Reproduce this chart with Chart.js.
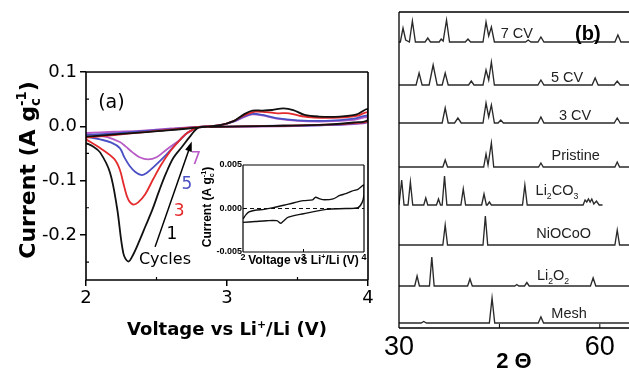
<!DOCTYPE html>
<html>
<head>
<meta charset="utf-8">
<script src="https://cdn.jsdelivr.net/npm/chart.js"></script>
<style>
  html,body{margin:0;padding:0;background:#fff;}
  body{width:629px;height:369px;overflow:hidden;position:relative;}
  canvas{position:absolute;display:block;}
  #cv{left:0;top:0;width:380px;height:369px;}
  #inset{left:200px;top:150px;width:170px;height:120px;}
  #xrd{left:380px;top:0;width:262px;height:369px;}
</style>
</head>
<body>
<canvas id="cv" width="380" height="369"></canvas>
<canvas id="inset" width="170" height="120"></canvas>
<canvas id="xrd" width="262" height="369"></canvas>
<script>
// ---- (a) cyclic voltammetry, [V, A/g] going 2 V -> 4 V -> 2 V ----
const cvXTicks = [2, 3, 4];
const cvXMinor = [2.5, 3.5];
const cvYTicks = [-0.2, -0.1, 0.0, 0.1];
const cvYMinor = [-0.25, -0.15, -0.05, 0.05];
const cvCycles = ['1', '3', '5', '7'];

const cycle1 = [
  [2.0,-0.019],[2.2,-0.015],[2.4,-0.011],[2.6,-0.007],[2.8,-0.002],[2.95,0.002],[3.05,0.010],[3.12,0.022],
  [3.18,0.029],[3.25,0.029],[3.32,0.030],[3.40,0.033],[3.47,0.030],[3.55,0.021],[3.65,0.018],[3.8,0.018],
  [3.92,0.022],[4.0,0.032],
  [4.0,0.012],[3.9,0.007],[3.7,0.003],[3.4,0.001],[3.1,0.0],[2.9,-0.001],[2.8,-0.002],[2.74,-0.018],
  [2.68,-0.038],[2.62,-0.058],[2.57,-0.085],[2.52,-0.118],[2.47,-0.154],[2.42,-0.185],[2.38,-0.21],
  [2.335,-0.236],[2.3,-0.249],[2.265,-0.234],[2.22,-0.15],[2.17,-0.085],[2.1,-0.048],[2.05,-0.037],[2.0,-0.031]
];
const cycle3 = [
  [2.0,-0.021],[2.2,-0.016],[2.4,-0.011],[2.6,-0.006],[2.8,-0.001],[2.95,0.002],[3.05,0.010],[3.12,0.020],
  [3.2,0.027],[3.28,0.026],[3.36,0.024],[3.44,0.024],[3.52,0.019],[3.62,0.016],[3.8,0.016],[3.92,0.019],[4.0,0.026],
  [4.0,0.010],[3.9,0.006],[3.7,0.003],[3.4,0.001],[3.1,0.0],[2.9,-0.001],[2.8,-0.002],[2.72,-0.012],
  [2.67,-0.024],[2.6,-0.045],[2.53,-0.072],[2.475,-0.098],[2.42,-0.125],[2.37,-0.14],[2.335,-0.144],
  [2.3,-0.135],[2.27,-0.11],[2.24,-0.08],[2.2,-0.06],[2.1,-0.04],[2.0,-0.024]
];
const cycle5 = [
  [2.0,-0.016],[2.2,-0.013],[2.4,-0.009],[2.6,-0.005],[2.8,-0.001],[2.95,0.002],[3.05,0.009],[3.12,0.018],
  [3.18,0.023],[3.25,0.021],[3.35,0.015],[3.5,0.011],[3.7,0.010],[3.9,0.014],[4.0,0.020],
  [4.0,0.009],[3.9,0.005],[3.7,0.002],[3.4,0.001],[3.1,0.0],[2.9,-0.001],[2.8,-0.002],[2.72,-0.012],
  [2.67,-0.024],[2.57,-0.052],[2.475,-0.076],[2.43,-0.086],[2.395,-0.09],[2.35,-0.084],[2.31,-0.073],
  [2.27,-0.056],[2.24,-0.04],[2.18,-0.03],[2.1,-0.024],[2.0,-0.019]
];
const cycle7 = [
  [2.0,-0.012],[2.2,-0.010],[2.4,-0.008],[2.6,-0.004],[2.8,-0.001],[2.95,0.002],[3.05,0.009],[3.12,0.017],
  [3.18,0.022],[3.25,0.020],[3.35,0.014],[3.5,0.010],[3.7,0.009],[3.9,0.012],[4.0,0.017],
  [4.0,0.008],[3.9,0.004],[3.7,0.002],[3.4,0.0],[3.1,-0.001],[2.9,-0.001],[2.8,-0.002],[2.72,-0.012],
  [2.67,-0.024],[2.57,-0.043],[2.5,-0.057],[2.44,-0.061],[2.38,-0.057],[2.33,-0.048],[2.28,-0.037],
  [2.24,-0.029],[2.15,-0.02],[2.0,-0.014]
];
const cvLoops = [cycle1, cycle3, cycle5, cycle7];

// ---- inset, last cycle zoomed ----
const insetXTicks = [2, 3, 4];
const insetYTicks = [-0.005, 0.0, 0.005];
const insetLoop = [
  [2.0,-0.0012],[2.05,-0.0007],[2.1,-0.0004],[2.2,-0.0002],[2.35,-0.0001],[2.5,0.0001],[2.75,0.0005],
  [3.0,0.0009],[3.15,0.0010],[3.2,0.0013],[3.27,0.0011],[3.35,0.0010],[3.49,0.0011],[3.6,0.0015],
  [3.7,0.0017],[3.8,0.0020],[3.9,0.0022],[4.0,0.0027],
  [4.0,0.0016],[3.97,0.0007],[3.9,0.0001],[3.7,0.0],[3.38,-0.0001],[3.0,-0.0006],[2.75,-0.001],
  [2.66,-0.0015],[2.62,-0.0017],[2.56,-0.0014],[2.39,-0.0014],[2.2,-0.0015],[2.0,-0.0016]
];
const insetZero = [[2, 0], [4, 0]];

// ---- (b) XRD, [2theta, counts above own baseline] ----
const xrdXTicks = [30, 60];
const xrdXMinor = [45, 60];
const xrdNames = ['Mesh', 'Li2O2', 'NiOCoO', 'Li2CO3', 'Pristine', '3 CV', '5 CV', '7 CV'];
const xrdOffsets = [5, 42, 83, 123, 161, 205, 243, 286];

const xrdMesh = [[30,0],[33.3,0],[33.7,1.5],[34.1,0],[43.5,0],[43.9,25],[44.3,0],[50.8,0],[51.2,6],[51.6,0],[66.3,0]];
const xrdLi2O2 = [[30,0],[32.35,0],[32.7,10],[33.05,0],[34.55,0],[34.9,29],[35.25,0],[40.25,0],[40.6,7],[40.95,0],
  [47.3,0],[47.6,1.5],[47.9,0],[48.75,0],[49.1,3.5],[49.45,0],[58.6,0],[59.0,8],[59.4,0],[66.3,0]];
const xrdNiOCoO = [[30,0],[36.55,0],[36.9,20],[37.25,0],[42.55,0],[42.9,29],[43.25,0],[62.25,0],[62.6,15],[62.95,0],[66.3,0]];
const xrdLi2CO3 = [[30,0],[30.05,0],[30.4,25],[30.75,0],[31.35,0],[31.7,23],[32.05,0],[33.7,0],[34.0,7],[34.3,0],
  [35.6,0],[35.9,6],[36.2,0],[36.45,0],[36.8,29],[37.15,0],[39.25,0],[39.6,16],[39.95,0],[42.35,0],[42.7,11],
  [43.05,0],[43.2,0],[43.5,3],[43.8,0],[48.45,0],[48.8,20],[49.15,0],[57.5,0],[57.8,5],[58.05,3],[58.3,6],
  [58.55,3],[58.8,6],[59.1,1],[59.5,4],[59.9,0],[60.4,0]];
const xrdPristine = [[30,0],[36.55,0],[36.9,7],[37.25,0],[42.65,0],[43.0,13],[43.3,2],[43.8,24],[44.15,0],
  [50.85,0],[51.2,4],[51.55,0],[62.25,0],[62.6,5],[62.95,0],[66.3,0]];
const xrdCV3 = [[30,0],[36.45,0],[36.9,15],[37.35,0],[38.3,0],[38.8,5],[39.3,0],[42.55,0],[43.0,20],[43.4,6],
  [43.8,18],[44.25,0],[44.8,0],[45.2,3],[45.6,0],[50.75,0],[51.2,6],[51.65,0],[62.15,0],[62.6,5],[63.05,0],[66.3,0]];
const xrdCV5 = [[30,0],[32.55,0],[33.0,12],[33.45,0],[34.5,0],[35.1,20],[35.7,0],[36.45,0],[36.9,12],[37.35,0],
  [40.4,0],[40.8,4],[41.2,0],[42.55,0],[43.0,15],[43.4,5],[43.8,23],[44.25,0],[50.75,0],[51.2,5],[51.65,0],
  [58.85,0],[59.3,7],[59.75,0],[62.15,0],[62.6,4],[63.05,0],[66.3,0]];
const xrdCV7 = [[30,0],[30.2,0],[30.6,14],[31.0,2],[31.55,0],[32.0,21],[32.45,0],[33.9,0],[34.3,4],[34.7,0],
  [36.0,0],[36.3,3],[36.6,1],[37.1,22],[37.55,0],[39.9,0],[40.3,3],[40.7,0],[42.55,0],[43.0,20],[43.4,6],
  [43.8,15],[44.25,0],[48.9,0],[49.3,2],[49.7,0],[50.75,0],[51.2,5],[51.65,0],[58.9,0],[59.3,1.5],[59.7,0],
  [62.25,0],[62.7,7],[63.15,0],[66.3,0]];
const xrdPatterns = [xrdMesh, xrdLi2O2, xrdNiOCoO, xrdLi2CO3, xrdPristine, xrdCV3, xrdCV5, xrdCV7];

// ------------------------------------------------------------------
const $ = s => document.querySelector(s);
const pts = a => a.map(([x, y]) => ({x, y}));
const fixedTicks = list => s => { s.ticks = list.map(v => ({value: v})); };
const FA = 'DejaVu Sans';
const FB = '"Liberation Sans", Arial, sans-serif';
const cvColors = ['#111111', '#e42a2c', '#4a50c4', '#b95bc6'];

// text with sub / superscripts, y = middle of capitals
function rich(ctx, parts, x, y, size, font, weight, align){
  const small = size * 0.6;
  const f = s => `${weight} ${s}px ${font}`;
  const widths = parts.map(p => {
    if (typeof p === 'string'){ ctx.font = f(size); return ctx.measureText(p).width; }
    ctx.font = f(small);
    return Math.max(...[p.sub, p.sup].filter(Boolean).map(t => ctx.measureText(t).width));
  });
  const w = widths.reduce((a, b) => a + b, 0);
  let cx = align === 'left' ? x : x - w / 2;
  const base = y + size * 0.36;
  ctx.textAlign = 'left';
  ctx.textBaseline = 'alphabetic';
  parts.forEach((p, i) => {
    if (typeof p === 'string'){ ctx.font = f(size); ctx.fillText(p, cx, base); }
    else {
      ctx.font = f(small);
      if (p.sup) ctx.fillText(p.sup, cx, base - size * 0.42);
      if (p.sub) ctx.fillText(p.sub, cx, base + size * 0.24);
    }
    cx += widths[i];
  });
}

const framePlugin = {
  id: 'frame',
  afterDatasetsDraw(chart, args, opt){
    const {ctx, chartArea: a} = chart;
    const s = opt.sides || 'ltrb';
    ctx.save();
    ctx.strokeStyle = '#000';
    ctx.lineWidth = opt.width || 1.5;
    ctx.beginPath();
    if (s.includes('l')){ ctx.moveTo(a.left, a.top); ctx.lineTo(a.left, a.bottom); }
    if (s.includes('r')){ ctx.moveTo(a.right, a.top); ctx.lineTo(a.right, a.bottom); }
    if (s.includes('t')){ ctx.moveTo(a.left, a.top); ctx.lineTo(a.right, a.top); }
    if (s.includes('b')){ ctx.moveTo(a.left, a.bottom); ctx.lineTo(a.right, a.bottom); }
    ctx.stroke();
    ctx.restore();
  }
};

// short ticks pointing into the plot
const minorPlugin = {
  id: 'minor',
  afterDatasetsDraw(chart, args, opt){
    const {ctx, chartArea: a, scales: {x, y}} = chart;
    ctx.save();
    ctx.strokeStyle = '#000';
    ctx.lineWidth = opt.width || 1;
    ctx.beginPath();
    (opt.x || []).forEach(v => { const p = x.getPixelForValue(v); ctx.moveTo(p, a.bottom); ctx.lineTo(p, a.bottom - opt.len); });
    (opt.y || []).forEach(v => { const p = y.getPixelForValue(v); ctx.moveTo(a.left, p); ctx.lineTo(a.left + opt.len, p); });
    ctx.stroke();
    ctx.restore();
  }
};

const whiteBg = {
  id: 'whiteBg',
  beforeDraw(chart){
    const {ctx, chartArea: a} = chart;
    ctx.save(); ctx.fillStyle = '#fff';
    ctx.fillRect(a.left, a.top, a.right - a.left, a.bottom - a.top);
    ctx.restore();
  }
};

const cvNotes = {
  id: 'cvNotes',
  afterDraw(chart){
    const {ctx, chartArea: a, scales: {x, y}} = chart;
    ctx.save();
    ctx.fillStyle = '#000';
    rich(ctx, ['Voltage vs Li', {sup: '+'}, '/Li (V)'], (a.left + a.right) / 2, 329, 18, FA, 'bold');
    ctx.save();
    ctx.translate(27, 170);
    ctx.rotate(-Math.PI / 2);
    rich(ctx, ['Current (A g', {sub: 'c', sup: '-1'}, ')'], 0, 0, 22, FA, 'bold');
    ctx.restore();

    rich(ctx, ['(a)'], x.getPixelForValue(2.18), y.getPixelForValue(0.046), 19, FA, 'normal');
    const spots = [[2.61, -0.196], [2.66, -0.154], [2.716, -0.104], [2.78, -0.059]];
    cvCycles.forEach((c, i) => {
      ctx.fillStyle = i === 0 ? '#000' : cvColors[i];
      rich(ctx, [c], x.getPixelForValue(spots[i][0]), y.getPixelForValue(spots[i][1]), 17, FA, 'normal');
    });
    ctx.fillStyle = '#000';
    rich(ctx, ['Cycles'], x.getPixelForValue(2.56), y.getPixelForValue(-0.243), 16, FA, 'normal');

    // arrow
    const x0 = x.getPixelForValue(2.49), y0 = y.getPixelForValue(-0.222);
    const x1 = x.getPixelForValue(2.75), y1 = y.getPixelForValue(-0.028);
    const ang = Math.atan2(y1 - y0, x1 - x0), c = Math.cos(ang), s = Math.sin(ang);
    ctx.strokeStyle = '#000'; ctx.lineWidth = 1.5;
    ctx.beginPath(); ctx.moveTo(x0, y0); ctx.lineTo(x1 - 6 * c, y1 - 6 * s); ctx.stroke();
    ctx.beginPath();
    ctx.moveTo(x1, y1);
    ctx.lineTo(x1 - 10 * c + 3.5 * s, y1 - 10 * s - 3.5 * c);
    ctx.lineTo(x1 - 10 * c - 3.5 * s, y1 - 10 * s + 3.5 * c);
    ctx.closePath(); ctx.fill();
    ctx.restore();
  }
};

const insetNotes = {
  id: 'insetNotes',
  afterDraw(chart){
    const {ctx, chartArea: a} = chart;
    ctx.save();
    ctx.fillStyle = '#000';
    rich(ctx, ['Voltage vs Li', {sup: '+'}, '/Li (V)'], (a.left + a.right) / 2, a.bottom + 8, 12, FB, 'bold');
    ctx.translate(a.left - 36, a.top + 42);
    ctx.rotate(-Math.PI / 2);
    rich(ctx, ['Current (A g', {sub: 'c', sup: '-1'}, ')'], 0, 0, 12, FB, 'bold');
    ctx.restore();
  }
};

const xrdNotes = {
  id: 'xrdNotes',
  afterDraw(chart){
    const {ctx, chartArea: a, scales: {x, y}} = chart;
    const labels = {
      'Mesh':     [['Mesh'], 55.4, 15, 'center'],
      'Li2O2':    [['Li', {sub: '2'}, 'O', {sub: '2'}], 50.6, 53, 'left'],
      'NiOCoO':   [['NiOCoO'], 54.6, 95, 'center'],
      'Li2CO3':   [['Li', {sub: '2'}, 'CO', {sub: '3'}], 50.4, 138, 'left'],
      'Pristine': [['Pristine'], 56.4, 173, 'center'],
      '3 CV':     [['3 CV'], 56.3, 213, 'center'],
      '5 CV':     [['5 CV'], 55.1, 251, 'center'],
      '7 CV':     [['7 CV'], 47.6, 295, 'center']
    };
    ctx.save();
    ctx.fillStyle = '#222';
    xrdNames.forEach(n => {
      const [parts, lx, ly, al] = labels[n];
      rich(ctx, parts, x.getPixelForValue(lx), y.getPixelForValue(ly), 14.5, FB, 'normal', al);
    });
    ctx.fillStyle = '#000';
    rich(ctx, ['(b)'], x.getPixelForValue(58.2), y.getPixelForValue(295), 20, FB, 'bold');
    rich(ctx, ['2 \u0398'], a.left + 115, 360, 22, FB, 'bold');
    ctx.restore();
  }
};

const common = {
  responsive: false,
  animation: false,
  events: []
};

// (a) main
new Chart($('#cv'), {
  type: 'scatter',
  data: {
    datasets: cvLoops.map((loop, i) => ({
      label: 'Cycle ' + cvCycles[i],
      data: pts(loop),
      showLine: true,
      borderColor: cvColors[i],
      borderWidth: 1.8,
      pointRadius: 0,
      tension: 0.35
    }))
  },
  options: {
    ...common,
    layout: {padding: {top: 72, right: 12, left: 0, bottom: 0}},
    plugins: {
      legend: {display: false}, tooltip: {enabled: false},
      frame: {sides: 'ltrb', width: 1.6},
      minor: {x: cvXMinor, y: cvYMinor, len: 3, width: 1.2}
    },
    scales: {
      x: {
        type: 'linear', min: 2, max: 4,
        afterBuildTicks: fixedTicks(cvXTicks),
        afterFit: s => { s.height = 89; },
        border: {display: false},
        grid: {drawOnChartArea: false, tickLength: 6, color: '#000', lineWidth: 1.5},
        ticks: {color: '#000', font: {family: FA, size: 18}, padding: 2, callback: v => String(v)}
      },
      y: {
        type: 'linear', min: -0.283, max: 0.1,
        afterBuildTicks: fixedTicks(cvYTicks),
        afterFit: s => { s.width = 86; },
        border: {display: false},
        grid: {drawOnChartArea: false, tickLength: 6, color: '#000', lineWidth: 1.5},
        ticks: {color: '#000', font: {family: FA, size: 18}, padding: 3, callback: v => v.toFixed(1)}
      }
    }
  },
  plugins: [framePlugin, minorPlugin, cvNotes]
});

// (a) inset
new Chart($('#inset'), {
  type: 'scatter',
  data: {
    datasets: [
      {data: pts(insetLoop), showLine: true, borderColor: '#111', borderWidth: 1.4, pointRadius: 0, tension: 0.3},
      {data: pts(insetZero), showLine: true, borderColor: '#111', borderWidth: 1.2, borderDash: [4, 3], pointRadius: 0}
    ]
  },
  options: {
    ...common,
    layout: {padding: {top: 15, right: 6, left: 0, bottom: 0}},
    plugins: {
      legend: {display: false}, tooltip: {enabled: false},
      frame: {sides: 'ltrb', width: 1.2},
      minor: {x: [3], y: [0], len: 3}
    },
    scales: {
      x: {
        type: 'linear', min: 2, max: 4,
        afterBuildTicks: fixedTicks(insetXTicks),
        afterFit: s => { s.height = 18; },
        border: {display: false},
        grid: {display: false, drawTicks: false},
        ticks: {color: '#000', font: {family: FB, size: 9, weight: 'bold'}, padding: 0, callback: v => String(v)}
      },
      y: {
        type: 'linear', min: -0.005, max: 0.005,
        afterBuildTicks: fixedTicks(insetYTicks),
        afterFit: s => { s.width = 43; },
        border: {display: false},
        grid: {display: false, drawTicks: false},
        ticks: {color: '#000', font: {family: FB, size: 9, weight: 'bold'}, padding: 1, callback: v => v.toFixed(3)}
      }
    }
  },
  plugins: [whiteBg, framePlugin, minorPlugin, insetNotes]
});

// (b) XRD
new Chart($('#xrd'), {
  type: 'scatter',
  data: {
    datasets: xrdPatterns.map((p, i) => ({
      label: xrdNames[i],
      data: p.map(([x, y]) => ({x, y: y + xrdOffsets[i]})),
      showLine: true,
      borderColor: '#2a2a2a',
      borderWidth: 1.35,
      pointRadius: 0,
      tension: 0
    }))
  },
  options: {
    ...common,
    layout: {padding: {top: 12, right: 0, left: 19, bottom: 0}},
    plugins: {
      legend: {display: false}, tooltip: {enabled: false},
      frame: {sides: 'ltb', width: 1.3},
      minor: {x: xrdXMinor, len: 4}
    },
    scales: {
      x: {
        type: 'linear', min: 30, max: 66.3,
        afterBuildTicks: fixedTicks(xrdXTicks),
        afterFit: s => { s.height = 41; },
        border: {display: false},
        grid: {display: false, drawTicks: false},
        ticks: {color: '#000', font: {family: FB, size: 27}, padding: 3, maxRotation: 0, autoSkip: false, callback: v => String(v)}
      },
      y: {type: 'linear', display: false, min: 0, max: 316}
    }
  },
  plugins: [framePlugin, minorPlugin, xrdNotes]
});
</script>
</body>
</html>
